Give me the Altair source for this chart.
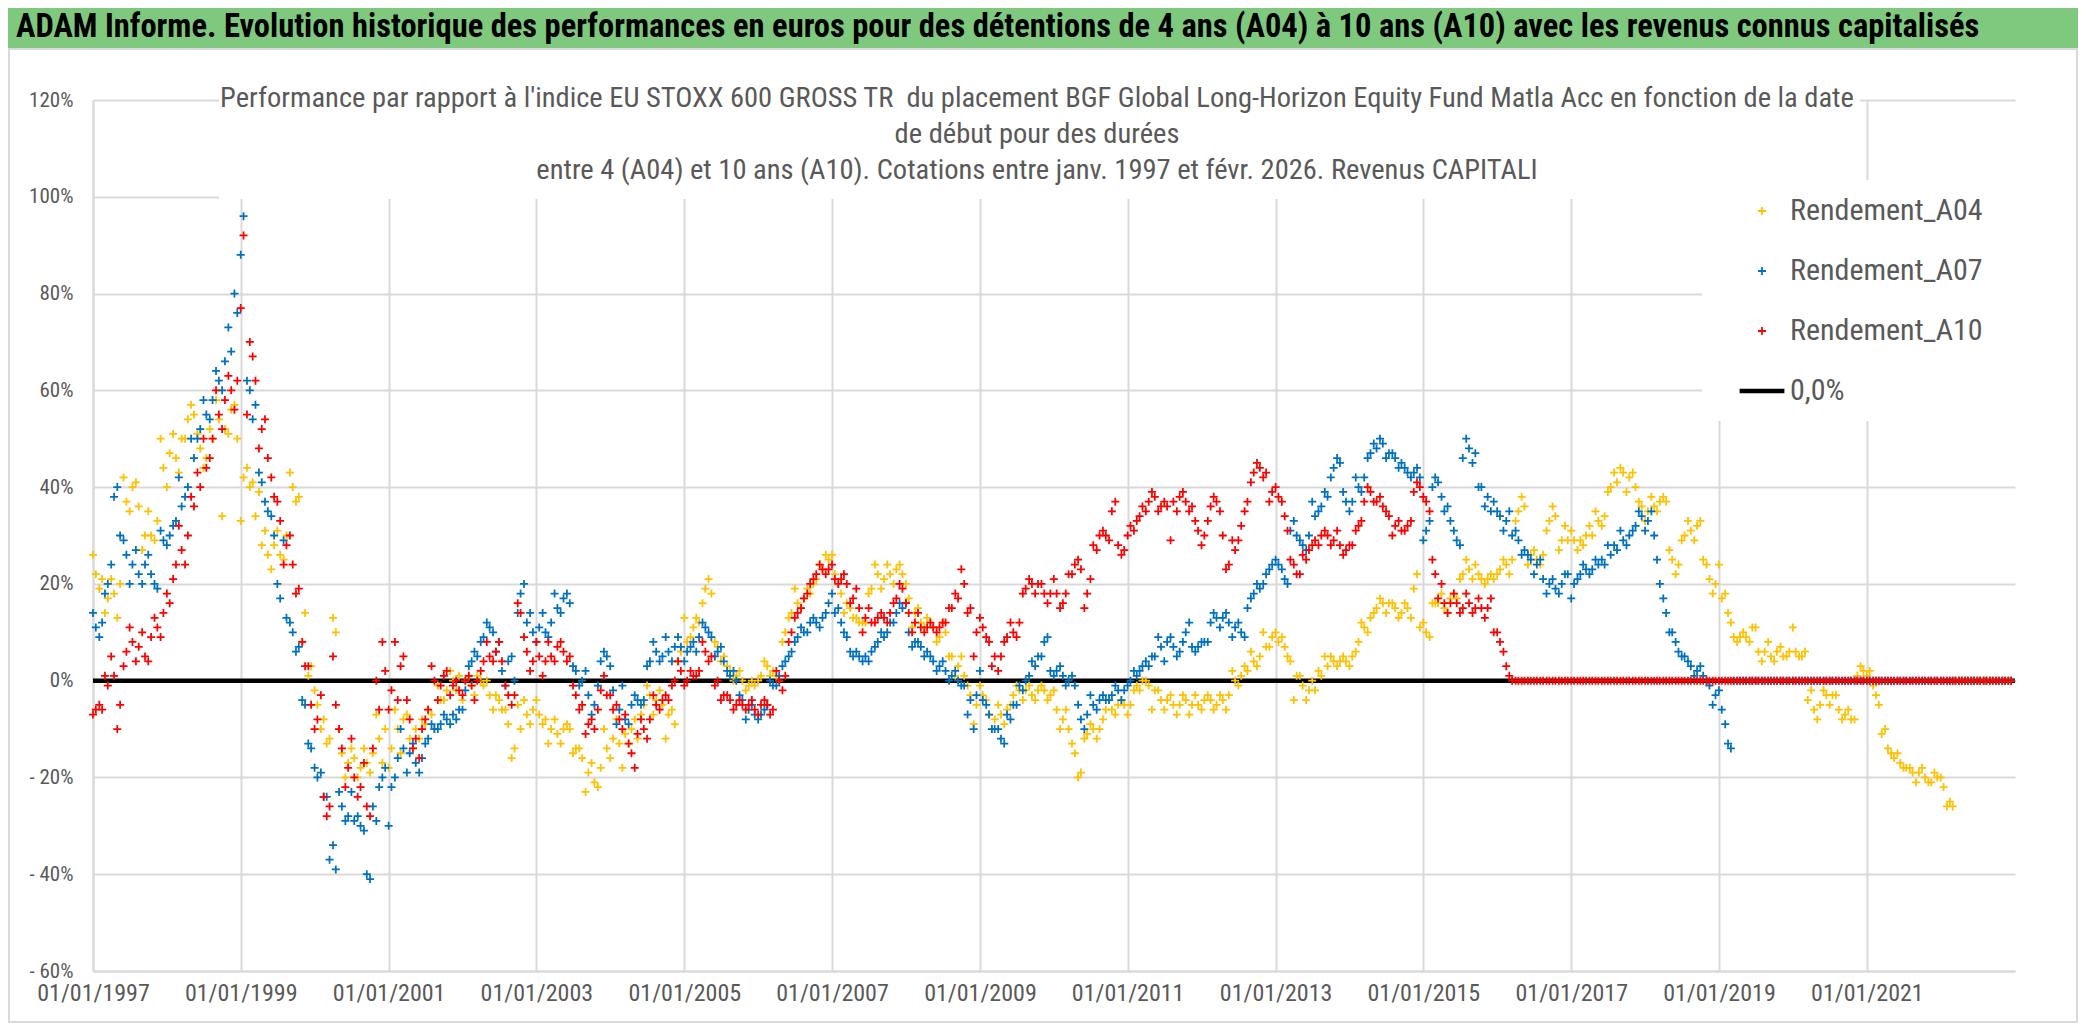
import altair as alt
import pandas as pd

FONT = "Liberation Sans Narrow, Arial Narrow, Roboto Condensed, Roboto, sans-serif"

# Readings (%) at mid-month, Jan 1997 .. Dec 2022, one row per year
A04 = [
    22, 21, 17, 18, 20, 37, 40, 36, 30, 30, 33, 44,      # 1997
    47, 46, 50, 54, 55, 48, 46, 50, 54, 52, 56, 50,      # 1998
    42, 40, 34, 28, 26, 28, 26, 30, 40, 38, 14, 3,       # 1999
    -5, -8, -12, 10, -15, -17, -16, -18, -17, -15, -12, -10,  # 2000
    -14, -10, -8, -12, -10, -8, -6, -10, -4, -2, 0, 1,   # 2001
    0, -1, 1, -1, -3, -3, -6, -9, -14, -10, -7, -6,      # 2002
    -7, -8, -10, -11, -10, -10, -14, -16, -19, -21, -18, -14,  # 2003
    -12, -13, -11, -10, -12, -5, -3, -4, -5, -7, -9, 6,  # 2004
    8, 11, 12, 19, 18, 7, 5, 2, 1, 0, -1, -1,            # 2005
    1, 3, 2, 0, 10, 14, 16, 17, 18, 21, 23, 25,          # 2006
    22, 18, 16, 13, 12, 12, 19, 22, 21, 22, 23, 22,      # 2007
    17, 14, 12, 13, 11, 9, 10, 5, 3, 1, -3, -5,          # 2008
    -3, -7, -8, -7, -6, -3, -2, -2, -3, -2, -2, -3,      # 2009
    -6, -8, -10, -15, -19, -11, -10, -10, -6, -6, -5, -5,  # 2010
    -5, -1, 0, -1, -2, -4, -4, -5, -5, -4, -5, -5,       # 2011
    -4, -4, -5, -4, -3, 0, 1, 2, 4, 5, 7, 9,             # 2012
    8, 7, 4, 1, -1, -2, -2, 1, 3, 4, 4, 4,               # 2013
    5, 8, 11, 13, 15, 16, 16, 15, 14, 15, 19, 11,        # 2014
    10, 16, 16, 15, 17, 17, 22, 23, 24, 21, 21, 21,      # 2015
    23, 24, 25, 35, 36, 26, 25, 26, 33, 34, 29, 29,      # 2016
    29, 29, 30, 30, 33, 34, 40, 41, 43, 42, 40, 36,      # 2017
    35, 36, 37, 37, 25, 24, 30, 31, 32, 25, 21, 20,      # 2018
    17, 14, 9, 9, 9, 11, 6, 6, 5, 6, 5, 6,               # 2019
    6, 5, -4, -6, -5, -3, -3, -6, -7, -8, 1, 2,          # 2020
    2, -3, -11, -14, -16, -17, -18, -19, -19, -20, -21, -20,  # 2021
    -22, -25, 0, 0, 0, 0, 0, 0, 0, 0, 0, 0,              # 2022
]
# Readings (%) at the first day of each month (other edge of the cloud)
A04_B = [
    26, 19, 14, 21, 13, 42, 35, 41, 27, 35, 29, 50,      # 1997
    40, 51, 43, 50, 57, 51, 44, 52, 58, 34, 51, 57,      # 1998
    33, 44, 41, 39, 31, 23, 31, 25, 43, 37, 8, 1,        # 1999
    -2, -10, -13, 13, -10, -20, -14, -20, -14, -19, -7, -17,  # 2000
    -18, -6, -15, -7, -14, -12, -9, -7, -1, -4, 2, -2,   # 2001
    -4, 1, -3, 0, 0, -6, -4, -6, -16, -5, -4, -9,        # 2002
    -4, -9, -13, -8, -13, -9, -15, -14, -23, -17, -22, -10,  # 2003
    -16, -8, -18, -13, -8, -7, -1, -7, -2, -12, -6, 4,   # 2004
    13, 9, 13, 16, 21, 8, 4, 3, 0, 2, -2, 0,             # 2005
    0, 4, 1, 1, 8, 13, 19, 15, 19, 20, 24, 26,           # 2006
    26, 20, 14, 15, 13, 12, 18, 24, 19, 24, 20, 24,      # 2007
    20, 11, 15, 11, 12, 8, 12, 5, 1, 5, -1, -9,          # 2008
    -1, -4, -10, -5, -9, -5, -1, -4, -1, -4, -1, -4,     # 2009
    -2, -10, -6, -13, -20, -12, -9, -12, -8, -4, -7, -4,  # 2010
    -7, -2, -2, 0, -6, -2, -6, -3, -7, -3, -7, -3,       # 2011
    -6, -3, -6, -3, -6, 2, -1, 3, 6, 3, 10, 7,           # 2012
    10, 9, 5, -4, 1, -4, 0, 2, 5, 5, 3, 5,               # 2013
    3, 6, 12, 10, 14, 17, 14, 16, 13, 16, 13, 22,        # 2014
    12, 9, 16, 18, 14, 18, 21, 25, 21, 22, 20, 22,       # 2015
    22, 25, 22, 33, 38, 24, 27, 24, 31, 36, 27, 32,      # 2016
    31, 27, 28, 32, 35, 32, 39, 43, 44, 39, 43, 37,      # 2017
    33, 38, 35, 38, 27, 22, 29, 33, 29, 33, 24, 18,      # 2018
    24, 18, 12, 8, 10, 8, 11, 4, 8, 4, 7, 5,             # 2019
    11, 5, 6, -2, -8, -2, -5, -3, -8, -6, -8, 3,         # 2020
    1, -1, -5, -10, -15, -15, -18, -18, -21, -18, -21, -19,  # 2021
    -20, -26, -26, 0, 0, 0, 0, 0, 0, 0, 0, 0,            # 2022
]

A07 = [
    11, 12, 20, 38, 30, 26, 24, 22, 24, 22, 19, 29,      # 1997
    30, 33, 36, 40, 46, 52, 55, 58, 62, 66, 68, 76,      # 1998
    96, 60, 57, 41, 35, 30, 17, 13, 10, 7, -5, -14,      # 1999
    -20, -24, -37, -39, -26, -28, -29, -30, -40, -26, -22, -18,  # 2000
    -22, -16, -14, -15, -17, -16, -12, -10, -9, -8, -7, -6,  # 2001
    -2, 4, 5, 9, 11, 6, 2, 4, 0, 18, 12, 10,             # 2002
    11, 10, 12, 15, 17, 16, 2, 0, -3, -5, 4, 5,          # 2003
    -2, -6, -8, -5, -4, -4, 4, 6, 5, 6, 7, 7,            # 2004
    6, 8, 9, 11, 9, 6, 4, 1, 0, -4, -6, -7,              # 2005
    -7, -5, -1, 1, 4, 6, 9, 10, 12, 12, 13, 16,          # 2006
    14, 12, 9, 5, 5, 5, 6, 8, 9, 12, 14, 15,             # 2007
    10, 8, 7, 6, 4, 3, 2, 1, 0, -1, -4, -3,              # 2008
    -4, -7, -10, -12, -7, -5, -1, 0, 4, 5, 8, 2,         # 2009
    2, 1, 0, -1, -8, -7, -5, -4, -4, -3, -2, -2,         # 2010
    0, 1, 3, 3, 5, 7, 8, 7, 6, 10, 7, 7,                 # 2011
    8, 12, 13, 13, 12, 11, 10, 15, 18, 19, 22, 24,       # 2012
    24, 21, 31, 30, 28, 30, 34, 36, 38, 44, 45, 37,      # 2013
    37, 40, 42, 47, 48, 49, 47, 46, 45, 43, 43, 42,      # 2014
    31, 40, 41, 35, 33, 29, 46, 48, 47, 40, 38, 37,      # 2015
    34, 33, 30, 29, 27, 25, 24, 21, 20, 19, 20, 22,      # 2016
    20, 22, 23, 23, 24, 24, 26, 27, 29, 30, 32, 34,      # 2017
    33, 30, 20, 14, 10, 6, 5, 3, 2, 1, -1, -3,           # 2018
    -6, -13, 0, 0, 0, 0, 0, 0, 0, 0, 0, 0,               # 2019
    0, 0, 0, 0, 0, 0, 0, 0, 0, 0, 0, 0,                  # 2020
    0, 0, 0, 0, 0, 0, 0, 0, 0, 0, 0, 0,                  # 2021
    0, 0, 0, 0, 0, 0, 0, 0, 0, 0, 0, 0,                  # 2022
]
A07_B = [
    14, 9, 18, 24, 40, 29, 20, 27, 20, 26, 20, 31,       # 1997
    28, 32, 42, 38, 50, 50, 58, 54, 64, 60, 73, 80,      # 1998
    88, 62, 54, 43, 37, 34, 20, 29, 12, 6, -4, -13,      # 1999
    -18, -19, -24, -34, -23, -29, -23, -28, -31, -41, -29, -20,  # 2000
    -30, -20, -10, -19, -13, -19, -13, -9, -10, -7, -9, -8,  # 2001
    -6, 3, 6, 8, 12, 10, 8, -1, 5, 14, 20, 14,           # 2002
    8, 14, 9, 18, 14, 18, 3, -1, 2, -7, -1, 6,           # 2003
    3, -9, -1, -9, -3, -5, 3, 8, 4, 9, 4, 9,             # 2004
    4, 7, 6, 12, 10, 5, 7, 2, 2, -3, -8, -5,             # 2005
    -8, -6, 0, -1, 3, 5, 8, 11, 10, 13, 11, 14,          # 2006
    18, 15, 10, 6, 6, 4, 4, 7, 10, 10, 12, 16,           # 2007
    16, 7, 8, 5, 5, 2, 4, 0, 2, -1, -7, -10,             # 2008
    2, -5, -10, -10, -13, -8, -5, -2, 1, 3, 5, 9,        # 2009
    1, 3, -1, 1, -5, -10, -3, -6, -3, -4, -1, -4,        # 2010
    -1, 2, 2, 4, 5, 9, 4, 9, 5, 8, 12, 6,                # 2011
    8, 8, 14, 11, 14, 9, 12, 9, 17, 20, 20, 23,          # 2012
    25, 23, 20, 33, 29, 27, 37, 35, 39, 42, 46, 39,      # 2013
    35, 42, 39, 46, 49, 50, 46, 47, 44, 44, 42, 44,      # 2014
    29, 33, 42, 38, 36, 31, 28, 50, 45, 40, 36, 35,      # 2015
    35, 31, 35, 31, 26, 26, 22, 25, 18, 21, 18, 22,      # 2016
    17, 21, 24, 22, 25, 25, 28, 28, 31, 28, 31, 35,      # 2017
    31, 35, 25, 17, 10, 8, 5, 4, 1, 3, 0, -5,            # 2018
    -2, -9, -14, 0, 0, 0, 0, 0, 0, 0, 0, 0,              # 2019
    0, 0, 0, 0, 0, 0, 0, 0, 0, 0, 0, 0,                  # 2020
    0, 0, 0, 0, 0, 0, 0, 0, 0, 0, 0, 0,                  # 2021
    0, 0, 0, 0, 0, 0, 0, 0, 0, 0, 0, 0,                  # 2022
]

A10 = [
    -6, -6, -1, 1, -5, 6, 8, 7, 5, 9, 11, 14,            # 1997
    16, 24, 27, 30, 36, 40, 44, 50, 55, 58, 60, 62,      # 1998
    92, 70, 62, 52, 46, 38, 33, 28, 24, 19, 3, -5,       # 1999
    -8, -24, -26, -5, -14, -18, -20, -22, -26, -14, -6, 2,  # 2000
    -2, -4, 5, -8, -12, -10, -6, 0, -1, 2, -1, -2,       # 2001
    0, -1, 0, 4, 5, 6, 4, -3, -3, 14, 6, 4,              # 2002
    5, 4, 5, 7, 6, 5, -3, -5, -9, -10, -2, -3,           # 2003
    -6, -8, -7, -15, -11, -10, -8, -5, -4, -4, 0, 2,     # 2004
    0, 1, 2, 6, 5, 0, -3, -4, -5, -5, -5, -6,            # 2005
    -5, -5, -6, 0, 1, 10, 14, 17, 20, 22, 23, 23,        # 2006
    21, 21, 20, 17, 15, 13, 12, 13, 13, 14, 17, 19,      # 2007
    14, 12, 11, 11, 11, 11, 12, 15, 17, 20, 15, 10,      # 2008
    11, 8, 5, 5, 9, 10, 12, 19, 20, 20, 18, 18,          # 2009
    18, 16, 22, 24, 23, 18, 28, 30, 30, 35, 28, 27,      # 2010
    32, 33, 36, 37, 38, 36, 36, 37, 38, 37, 36, 31,      # 2011
    30, 36, 37, 30, 24, 27, 32, 37, 43, 44, 43, 39,      # 2012
    38, 34, 25, 22, 26, 27, 29, 30, 30, 29, 28, 27,      # 2013
    28, 32, 37, 39, 37, 36, 34, 32, 31, 32, 39, 40,      # 2014
    37, 25, 17, 16, 16, 16, 15, 16, 15, 15, 15, 10,      # 2015
    8, 3, 0, 0, 0, 0, 0, 0, 0, 0, 0, 0,                  # 2016
    0, 0, 0, 0, 0, 0, 0, 0, 0, 0, 0, 0,                  # 2017
    0, 0, 0, 0, 0, 0, 0, 0, 0, 0, 0, 0,                  # 2018
    0, 0, 0, 0, 0, 0, 0, 0, 0, 0, 0, 0,                  # 2019
    0, 0, 0, 0, 0, 0, 0, 0, 0, 0, 0, 0,                  # 2020
    0, 0, 0, 0, 0, 0, 0, 0, 0, 0, 0, 0,                  # 2021
    0, 0, 0, 0, 0, 0, 0, 0, 0, 0, 0, 0,                  # 2022
]
A10_B = [
    -7, -5, 1, 5, -10, 3, 11, 4, 10, 4, 13, 9,           # 1997
    18, 21, 32, 24, 38, 43, 50, 46, 60, 52, 63, 56,      # 1998
    77, 55, 67, 48, 54, 42, 37, 24, 30, 18, 8, 3,        # 1999
    -10, -3, -28, 5, -10, -22, -12, -24, -17, -28, 0, 8,  # 2000
    -6, 8, 3, -4, -14, -16, -8, 3, -4, 1, -3, 0,         # 2001
    -3, 1, -4, 2, 8, 4, 8, -1, -5, 16, 9, 2,             # 2002
    8, 1, 8, 4, 8, 4, -1, -6, -11, -8, -6, 1,            # 2003
    -3, -5, -10, -13, -18, -8, -12, -3, -6, -3, -1, 4,   # 2004
    -1, 2, 1, 8, 4, -1, -4, -3, -6, -4, -6, -4,          # 2005
    -7, -4, -7, 2, -2, 8, 13, 15, 18, 21, 24, 22,        # 2006
    24, 20, 22, 16, 19, 10, 15, 12, 14, 12, 16, 20,      # 2007
    16, 10, 14, 10, 12, 10, 12, 15, 18, 23, 14, 5,       # 2008
    13, 9, 3, 2, 8, 12, 9, 18, 21, 18, 20, 16,           # 2009
    21, 15, 18, 22, 25, 15, 21, 27, 31, 29, 37, 26,      # 2010
    30, 31, 34, 35, 39, 35, 37, 29, 35, 39, 35, 33,      # 2011
    28, 33, 38, 35, 23, 29, 29, 35, 41, 45, 42, 37,      # 2012
    40, 37, 31, 24, 22, 25, 28, 28, 31, 28, 31, 26,      # 2013
    28, 31, 33, 40, 37, 38, 35, 30, 33, 31, 33, 41,      # 2014
    38, 35, 22, 20, 14, 18, 14, 18, 14, 17, 13, 17,      # 2015
    10, 6, 1, 0, 0, 0, 0, 0, 0, 0, 0, 0,                 # 2016
    0, 0, 0, 0, 0, 0, 0, 0, 0, 0, 0, 0,                  # 2017
    0, 0, 0, 0, 0, 0, 0, 0, 0, 0, 0, 0,                  # 2018
    0, 0, 0, 0, 0, 0, 0, 0, 0, 0, 0, 0,                  # 2019
    0, 0, 0, 0, 0, 0, 0, 0, 0, 0, 0, 0,                  # 2020
    0, 0, 0, 0, 0, 0, 0, 0, 0, 0, 0, 0,                  # 2021
    0, 0, 0, 0, 0, 0, 0, 0, 0, 0, 0, 0,                  # 2022
]

SERIES = ["Rendement_A04", "Rendement_A07", "Rendement_A10"]
ZERO_LABEL = "0,0%"
COLORS = ["#FFC000", "#0070C0", "#FF0000", "#000000"]
X_TICK_YEARS = [1997, 1999, 2001, 2003, 2005, 2007, 2009, 2011, 2013, 2015, 2017, 2019, 2021]
Y_TICKS = [-60, -40, -20, 0, 20, 40, 60, 80, 100, 120]

HEADER = ("ADAM Informe. Evolution historique des performances en euros pour des détentions "
          "de 4 ans (A04) à 10 ans (A10) avec les revenus connus capitalisés")
NB = "\u00a0"
TITLE_LINES = [
    "Performance par rapport à l'indice EU STOXX 600 GROSS TR " + NB + "du placement BGF Global "
    "Long-Horizon Equity Fund Matla Acc en fonction de la date",
    "de début pour des durées",
    "entre 4 (A04) et 10 ans (A10). Cotations entre janv. 1997 et févr. 2026. Revenus CAPITALI",
]

month_first = pd.date_range("1997-01-01", periods=312, freq="MS")
month_mid = month_first + pd.Timedelta(days=14)
rows = []
for name, mid_vals, first_vals in zip(SERIES, [A04, A07, A10], [A04_B, A07_B, A10_B]):
    for d, v in zip(month_first[: len(first_vals)], first_vals):
        rows.append({"date": d.strftime("%Y-%m-%d"), "value": v, "series": name})
    for d, v in zip(month_mid[: len(mid_vals)], mid_vals):
        rows.append({"date": d.strftime("%Y-%m-%d"), "value": v, "series": name})
df = pd.DataFrame(rows)

W, H = 1922, 871
PAD = {"left": 85, "top": 92, "right": 63, "bottom": 52}
GRID = "#D9D9D9"
TXT = "#595959"

CROSS = "M-1,-0.22H1V0.22H-1Z M-0.22,-1H0.22V1H-0.22Z"
BAR = "M-5.6,-0.56H5.6V0.56H-5.6Z"
dom = SERIES + [ZERO_LABEL]

legend = alt.Legend(
    orient="none", legendX=1654, legendY=96, title=None, padding=0,
    labelFont=FONT, labelFontSize=30, labelColor=TXT, labelOffset=13,
    rowPadding=30, symbolOpacity=1, labelLimit=0, symbolSize=64,
)

x_enc = alt.X(
    "date:T",
    scale=alt.Scale(type="utc", domain=[alt.DateTime(year=1997, month=1, date=1, utc=True),
                                        alt.DateTime(year=2023, month=1, date=3, utc=True)]),
    axis=alt.Axis(
        values=[alt.DateTime(year=y, month=1, date=1, utc=True) for y in X_TICK_YEARS],
        format="%d/%m/%Y", title=None, grid=True, gridColor=GRID, gridWidth=2,
        domainColor=GRID, domainWidth=2, ticks=False, labelFont=FONT, labelFontSize=24,
        labelColor=TXT, labelPadding=10, labelFlush=False, labelOverlap=False,
    ),
)
y_enc = alt.Y(
    "value:Q",
    scale=alt.Scale(domain=[-60, 120], nice=False, zero=False),
    axis=alt.Axis(
        values=Y_TICKS, title=None, grid=True, gridColor=GRID, gridWidth=2,
        domainColor=GRID, domainWidth=2, ticks=False, labelFont=FONT, labelFontSize=21,
        labelColor=TXT, labelPadding=20,
        labelExpr="datum.value < 0 ? '- ' + (-datum.value) + '%' : datum.value + '%'",
    ),
)

one = pd.DataFrame({"k": [0]})

header_bg = alt.Chart(one).mark_rect(color="#7FC97F").encode(
    x=alt.value(-85), x2=alt.value(W + 63), y=alt.value(-92), y2=alt.value(-52))
frame = alt.Chart(one).mark_rect(fill="transparent", stroke=GRID, strokeWidth=2).encode(
    x=alt.value(-84), x2=alt.value(W + 62), y=alt.value(-51), y2=alt.value(H + 51))
title_bg = alt.Chart(one).mark_rect(color="white").encode(
    x=alt.value(126), x2=alt.value(1767), y=alt.value(-12), y2=alt.value(99))
legend_bg = alt.Chart(one).mark_rect(color="white").encode(
    x=alt.value(1609), x2=alt.value(W + 2), y=alt.value(80), y2=alt.value(321))
header_txt = alt.Chart(one).mark_text(
    align="left", baseline="middle", font=FONT, fontSize=32.5, fontWeight="bold", color="black"
).encode(x=alt.value(-77), y=alt.value(-73), text=alt.value(HEADER))

zero_rule = alt.Chart(one).mark_rule(color="black", strokeWidth=4.5).encode(y=alt.datum(0))

points = alt.Chart(df).mark_point(filled=True, opacity=1, size=64).encode(
    x=x_enc, y=y_enc,
    color=alt.Color("series:N", scale=alt.Scale(domain=dom, range=COLORS), legend=legend),
    shape=alt.Shape("series:N", scale=alt.Scale(domain=dom, range=[CROSS, CROSS, CROSS, BAR]), legend=legend),
)

chart = alt.layer(header_bg, frame, title_bg, legend_bg, zero_rule, points, header_txt).properties(
    width=W, height=H,
    autosize=alt.AutoSizeParams(type="none"),
    padding=PAD,
    background="white",
    title=alt.TitleParams(
        text=TITLE_LINES, font=FONT, fontSize=28.5, fontWeight="normal", color=TXT,
        anchor="middle", orient="top", frame="group", baseline="top", lineHeight=36,
        offset=-176, dx=-17, zindex=1,
    ),
).configure_view(strokeWidth=0)

chart.save("out.html", embed_options={"renderer": "svg", "actions": False})
